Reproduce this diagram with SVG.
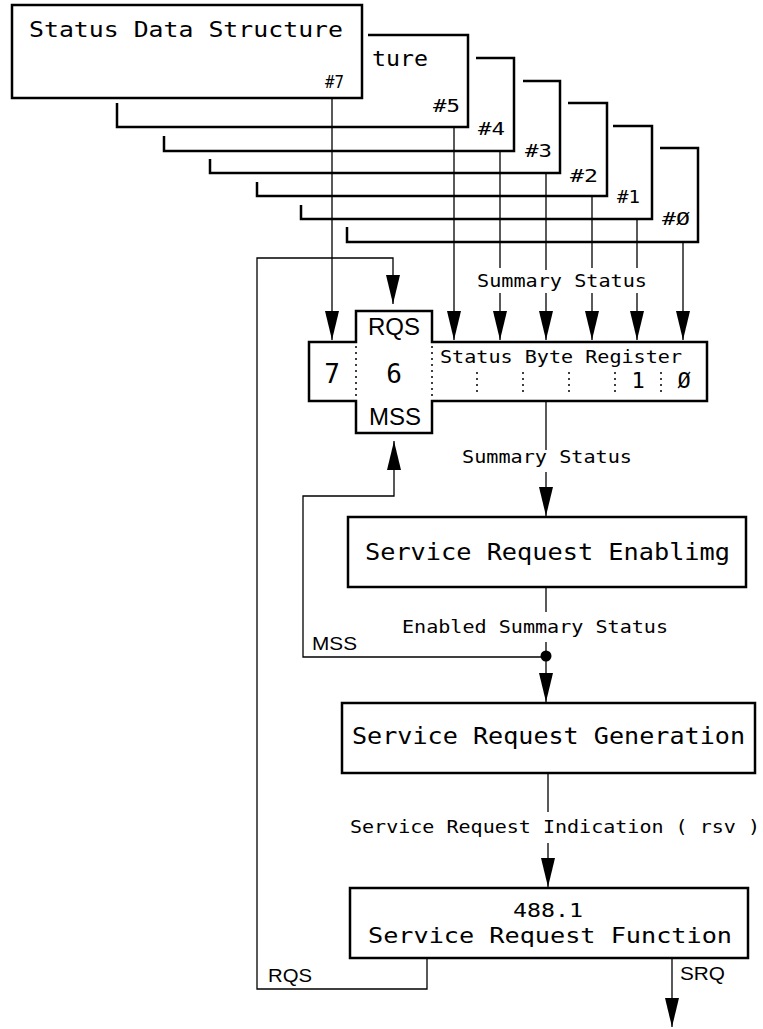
<svg xmlns="http://www.w3.org/2000/svg" width="763" height="1029" viewBox="0 0 763 1029">
<style>
.bx{fill:#fff;stroke:#000;stroke-width:2.5}
.bk{fill:none;stroke:#000;stroke-width:2.5}
.ln{fill:none;stroke:#000;stroke-width:1.3}
.dt{fill:none;stroke:#000;stroke-width:1.5;stroke-dasharray:2,4}
.pf{font-family:"DejaVu Sans Mono","Liberation Mono",monospace;fill:#000}
.sf{font-family:"Liberation Sans",Arial,sans-serif;fill:#000}
.t22{font-size:22px}
.t23{font-size:23px}
.t17{font-size:17px}
.t26{font-size:26px}
</style>
<defs>
<marker id="ah" viewBox="0 0 29 14" refX="29" refY="7" markerWidth="29" markerHeight="14" markerUnits="userSpaceOnUse" orient="auto">
<path d="M0,0 L29,7 L0,14 Z" fill="#000"/>
</marker>
</defs>

<g id="connectors">
<path class="ln" d="M332,98 V340" marker-end="url(#ah)"/>
<path class="ln" d="M454,127 V340" marker-end="url(#ah)"/>
<path class="ln" d="M500,151 V268"/>
<path class="ln" d="M500,293 V340" marker-end="url(#ah)"/>
<path class="ln" d="M546,173 V270"/>
<path class="ln" d="M546,293 V340" marker-end="url(#ah)"/>
<path class="ln" d="M592,196 V268"/>
<path class="ln" d="M592,293 V340" marker-end="url(#ah)"/>
<path class="ln" d="M637,219 V268"/>
<path class="ln" d="M637,293 V340" marker-end="url(#ah)"/>
<path class="ln" d="M683,242 V340" marker-end="url(#ah)"/>
<path class="ln" d="M546,401 V450"/>
<path class="ln" d="M546,472 V516" marker-end="url(#ah)"/>
<path class="ln" d="M546,587 V612"/>
<path class="ln" d="M546,642 V656"/>
<path class="ln" d="M546,656 V702" marker-end="url(#ah)"/>
<circle cx="546" cy="656" r="5.5" fill="#000"/>
<path class="ln" d="M546,657 H303 V496 H394 V441" marker-end="url(#ah)"/>
<path class="ln" d="M548,773 V812"/>
<path class="ln" d="M548,843 V887" marker-end="url(#ah)"/>
<path class="ln" d="M427,958 V989 H257 V258 H393 V304" marker-end="url(#ah)"/>
<path class="ln" d="M672,958 V1027" marker-end="url(#ah)"/>
<text class="pf t17" x="477" y="287" textLength="170" lengthAdjust="spacingAndGlyphs">Summary Status</text>
<text class="pf t17" x="462" y="463" textLength="170" lengthAdjust="spacingAndGlyphs">Summary Status</text>
<text class="pf t17" x="402" y="633" textLength="266" lengthAdjust="spacingAndGlyphs">Enabled Summary Status</text>
<text class="pf t17" x="350" y="833" textLength="410" lengthAdjust="spacingAndGlyphs">Service Request Indication ( rsv )</text>
<text class="sf" font-size="19" x="312" y="650" textLength="45" lengthAdjust="spacingAndGlyphs">MSS</text>
<text class="sf" font-size="19" x="268" y="982" textLength="44" lengthAdjust="spacingAndGlyphs">RQS</text>
<text class="sf" font-size="19" x="680" y="980" textLength="45" lengthAdjust="spacingAndGlyphs">SRQ</text>
</g>

<g id="struct0">
<path class="bk" d="M347,227 V242 H698 V148 H660"/>
<text class="pf t17" x="662" y="225" textLength="28" lengthAdjust="spacingAndGlyphs">#Ø</text>
</g>
<g id="struct1">
<path class="bk" d="M301,205 V219 H652 V126 H613"/>
<text class="pf t17" x="617" y="203" textLength="23" lengthAdjust="spacingAndGlyphs">#1</text>
</g>
<g id="struct2">
<path class="bk" d="M257,182 V196 H607 V103 H568"/>
<text class="pf t17" x="570" y="182" textLength="28" lengthAdjust="spacingAndGlyphs">#2</text>
</g>
<g id="struct3">
<path class="bk" d="M210,159 V173 H560 V81 H523"/>
<text class="pf t17" x="525" y="157" textLength="27" lengthAdjust="spacingAndGlyphs">#3</text>
</g>
<g id="struct4">
<path class="bk" d="M164,136 V151 H514 V58 H476"/>
<text class="pf t17" x="478" y="135" textLength="27" lengthAdjust="spacingAndGlyphs">#4</text>
</g>
<g id="struct5">
<path class="bk" d="M117,103 V127 H468 V35 H368"/>
<text class="pf t22" x="372" y="66" textLength="56" lengthAdjust="spacingAndGlyphs">ture</text>
<text class="pf t17" x="433" y="112" textLength="27" lengthAdjust="spacingAndGlyphs">#5</text>
</g>
<g id="struct7">
<rect class="bx" x="12" y="5" width="350" height="93"/>
<text class="pf t22" x="29" y="37" textLength="314" lengthAdjust="spacingAndGlyphs">Status Data Structure</text>
<text class="pf t17" x="325" y="88" textLength="19" lengthAdjust="spacingAndGlyphs">#7</text>
</g>

<g id="status-byte-register">
<path class="bx" d="M309,342 H356 V311 H432 V342 H707 V401 H432 V433 H356 V401 H309 Z"/>
<path class="dt" d="M356,346 V398 M432,346 V398 M477,372 V396 M523,372 V396 M569,372 V396 M615,372 V396 M661,372 V396"/>
<text class="sf" font-size="24" x="394" y="335" text-anchor="middle">RQS</text>
<text class="sf" font-size="24" x="395" y="425" text-anchor="middle">MSS</text>
<text class="pf t26" x="332" y="383" text-anchor="middle">7</text>
<text class="pf t26" x="394" y="383" text-anchor="middle">6</text>
<text class="pf t17" x="440" y="363" textLength="242" lengthAdjust="spacingAndGlyphs">Status Byte Register</text>
<text class="pf" font-size="22" x="638" y="388" text-anchor="middle">1</text>
<text class="pf" font-size="22" x="684" y="388" text-anchor="middle">Ø</text>
</g>

<g id="sr-enabling">
<rect class="bx" x="348" y="517" width="398" height="70"/>
<text class="pf t23" x="365" y="560" textLength="365" lengthAdjust="spacingAndGlyphs">Service Request Enablimg</text>
</g>
<g id="sr-generation">
<rect class="bx" x="342" y="703" width="413" height="70"/>
<text class="pf t23" x="352" y="744" textLength="393" lengthAdjust="spacingAndGlyphs">Service Request Generation</text>
</g>
<g id="sr-function">
<rect class="bx" x="350" y="888" width="398" height="70"/>
<text class="pf" font-size="19" x="548" y="917" text-anchor="middle" textLength="70" lengthAdjust="spacingAndGlyphs">488.1</text>
<text class="pf t22" x="368" y="943" textLength="364" lengthAdjust="spacingAndGlyphs">Service Request Function</text>
</g>
</svg>
